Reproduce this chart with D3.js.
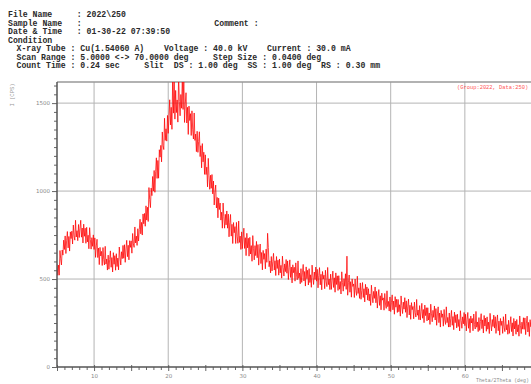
<!DOCTYPE html>
<html><head><meta charset="utf-8">
<script src="https://cdn.jsdelivr.net/npm/d3@7"></script>
<style>html,body{margin:0;padding:0;background:#fff;overflow:hidden}</style>
</head><body>
<svg id="c" width="531" height="384"></svg>
<script>
const headerLines = [
  "File Name     : 2022\\250",
  "Sample Name   :                           Comment :",
  "Date & Time   : 01-30-22 07:39:50",
  "Condition"
];
const conditionLines = [
  "X-ray Tube : Cu(1.54060 A)    Voltage : 40.0 kV    Current : 30.0 mA",
  "Scan Range : 5.0000 <-> 70.0000 deg     Step Size : 0.0400 deg",
  "Count Time : 0.24 sec     Slit  DS : 1.00 deg  SS : 1.00 deg  RS : 0.30 mm"
];
const xTicks = [10, 20, 30, 40, 50, 60];
const yTicks = [0, 500, 1000, 1500];
const scanStart = 5, scanStep = 0.1;
// intensity (CPS), one row per degree (5.0 .. 69.9) then 70.0
const intensityRows = [
 [584,521,579,522,662,615,580,665,636,721],
 [668,745,645,721,770,677,742,659,768,730],
 [772,699,807,745,721,834,739,775,718,810],
 [736,788,834,738,790,705,812,743,789,703],
 [794,711,749,672,792,725,670,735,686,751],
 [668,734,623,688,726,622,676,582,680,631],
 [657,577,679,610,580,686,585,614,551,636],
 [556,611,660,567,622,540,650,584,633,550],
 [644,571,619,552,682,625,580,655,616,691],
 [618,695,595,671,720,627,692,609,718,680],
 [717,647,759,700,680,796,705,744,691,786],
 [716,781,840,757,822,750,870,814,873,800],
 [916,835,908,827,1020,952,906,1017,974,1083],
 [1000,1117,993,1110,1189,1072,1174,1073,1235,1193],
 [1260,1166,1336,1258,1236,1414,1288,1354,1284,1430],
 [1328,1428,1519,1376,1476,1351,1650,1443,1640,1409],
 [1572,1446,1518,1392,1660,1509,1428,1549,1471,1640],
 [1464,1650,1390,1497,1559,1387,1476,1322,1483,1401],
 [1440,1316,1456,1348,1296,1444,1288,1324,1224,1340],
 [1220,1282,1337,1196,1258,1132,1270,1166,1221,1095],
 [1206,1094,1136,1024,1186,1087,1010,1090,1016,1094],
 [984,1057,921,994,1034,904,964,848,960,895],
 [932,835,880,789,932,855,789,868,808,887],
 [789,869,740,820,867,744,811,702,821,763],
 [798,702,822,740,703,830,708,744,668,768],
 [673,734,789,674,735,633,760,677,732,630],
 [737,642,690,601,747,672,609,690,633,714],
 [621,696,579,654,699,588,651,552,663,612],
 [645,558,670,595,760,680,570,603,535,628],
 [546,599,646,551,604,520,628,560,607,522],
 [614,535,578,505,630,567,517,586,542,611],
 [533,603,497,566,609,509,568,478,581,536],
 [567,488,592,524,496,603,504,534,473,559],
 [481,535,583,489,543,460,569,502,550,466],
 [559,480,524,453,579,518,469,540,497,568],
 [488,555,450,521,565,467,527,439,543,500],
 [522,445,550,484,457,566,468,500,440,528],
 [441,496,545,452,507,425,535,469,518,435],
 [519,442,486,415,541,480,431,502,459,530],
 [441,630,408,479,523,425,485,397,501,458],
 [472,395,500,434,407,516,418,450,390,478],
 [385,435,480,395,445,370,470,410,455,380],
 [445,375,415,350,465,410,365,430,390,455],
 [365,430,335,400,440,350,405,325,420,380],
 [393,323,418,358,333,433,343,373,318,398],
 [315,365,410,325,375,300,400,340,385,310],
 [384,314,354,289,404,349,304,369,329,394],
 [311,376,281,346,386,296,351,271,366,326],
 [344,274,369,309,284,384,294,324,269,349],
 [267,317,362,277,327,252,352,292,337,262],
 [337,267,307,242,357,302,257,322,282,347],
 [267,332,237,302,342,252,307,227,322,282],
 [302,232,327,267,242,342,252,282,227,307],
 [227,277,322,237,287,212,312,252,297,222],
 [300,230,270,205,320,265,220,285,245,310],
 [235,300,205,270,310,220,275,195,290,250],
 [276,206,301,241,216,316,226,256,201,281],
 [208,258,303,218,268,193,293,233,278,203],
 [285,215,255,190,305,250,205,270,230,295],
 [221,286,191,256,296,206,261,181,276,236],
 [261,191,286,226,201,301,211,241,186,266],
 [191,241,286,201,251,176,276,216,261,186],
 [270,200,240,175,290,235,190,255,215,280],
 [214,279,184,249,289,199,254,174,269,229],
 [263,193,288,228,203,303,213,243,188,268],
 [240]
];
const intensity = intensityRows.flat();
const twoTheta = intensity.map((_, i) => scanStart + i * scanStep);

const svg = d3.select("#c");
svg.append("rect").attr("width",531).attr("height",384).attr("fill","#fff");

// header text
const nb = t => t.replace(/ /g, "\u00a0");
const hdr = svg.append("g").attr("font-family","'Liberation Mono', 'DejaVu Sans Mono', monospace")
  .attr("font-size",8.2).attr("font-weight","bold").attr("fill","#2a2a2a");
headerLines.forEach((t,i)=>hdr.append("text").attr("x",8).attr("y",17+i*8.5).text(nb(t)));
conditionLines.forEach((t,i)=>hdr.append("text").attr("x",16.5).attr("y",17+(i+4)*8.5).text(nb(t)));

const pL = 57, pR = 539, pT = 82, pB = 367;
const x = d3.scaleLinear().domain([5,70]).range([pL,pR]);
const y = d3.scaleLinear().domain([0,1620]).range([pB,pT]);

// grid
const grid = svg.append("g").attr("stroke","#b4b4b4").attr("stroke-width",1);
xTicks.forEach(v=>grid.append("line").attr("x1",x(v)).attr("x2",x(v)).attr("y1",pT).attr("y2",pB));
yTicks.filter(v=>v>0).forEach(v=>grid.append("line").attr("x1",pL).attr("x2",pR).attr("y1",y(v)).attr("y2",y(v)));

// top border
svg.append("line").attr("x1",pL).attr("x2",pR).attr("y1",pT).attr("y2",pT)
  .attr("stroke","#999").attr("stroke-width",1.5);

// data
svg.append("clipPath").attr("id","pc").append("rect")
  .attr("x",pL).attr("y",pT).attr("width",pR-pL).attr("height",pB-pT);
const line = d3.line().x((d,i)=>x(twoTheta[i])).y(d=>y(d));
svg.append("path").datum(intensity).attr("clip-path","url(#pc)")
  .attr("fill","none").attr("stroke","#ff0000").attr("stroke-width",0.75)
  .attr("d",line);

// axes
const yAxis = d3.axisLeft(y).tickValues(d3.range(0,1601,50)).tickSize(3)
  .tickFormat(d=> yTicks.includes(d) ? d : "");
const gy = svg.append("g").attr("transform",`translate(${pL},0)`).call(yAxis);
gy.select(".domain").remove();
gy.selectAll("line").attr("stroke","#666");
gy.selectAll(".tick").filter(d=>yTicks.includes(d)).select("line").attr("x2",-5);
gy.selectAll("text").attr("font-size",5.5).attr("fill","#888").attr("font-family","'DejaVu Sans', sans-serif").attr("x",-7);

const xAxis = d3.axisBottom(x).tickValues(d3.range(5,70,1)).tickSize(3)
  .tickFormat(d=> xTicks.includes(d) ? d : "");
const gx = svg.append("g").attr("transform",`translate(0,${pB})`).call(xAxis);
gx.select(".domain").remove();
gx.selectAll("line").attr("stroke","#666");
gx.selectAll(".tick").filter(d=>d%5===0).select("line").attr("y1",-2).attr("y2",4);
gx.selectAll("text").attr("font-size",5.5).attr("fill","#888").attr("font-family","'DejaVu Sans', sans-serif").attr("y",7);

svg.append("line").attr("x1",pL).attr("x2",pL).attr("y1",pT).attr("y2",pB)
  .attr("stroke","#555").attr("stroke-width",1.5);
svg.append("line").attr("x1",pL).attr("x2",pR).attr("y1",pB).attr("y2",pB)
  .attr("stroke","#555").attr("stroke-width",1.5);

// labels
svg.append("text").attr("transform","translate(14,95) rotate(-90)").attr("text-anchor","middle")
  .attr("font-size",5.5).attr("fill","#999").attr("font-family","'Liberation Mono', monospace").text("I (CPS)");
svg.append("text").attr("x",457).attr("y",89).attr("font-size",5.4).attr("fill","#f55")
  .attr("font-family","'Liberation Mono', monospace").text("(Group:2022, Data:250)");
svg.append("text").attr("x",476).attr("y",382).attr("font-size",4.9).attr("fill","#888")
  .attr("font-family","'Liberation Mono', monospace").text("Theta/2Theta (deg)");
</script>
</body></html>
